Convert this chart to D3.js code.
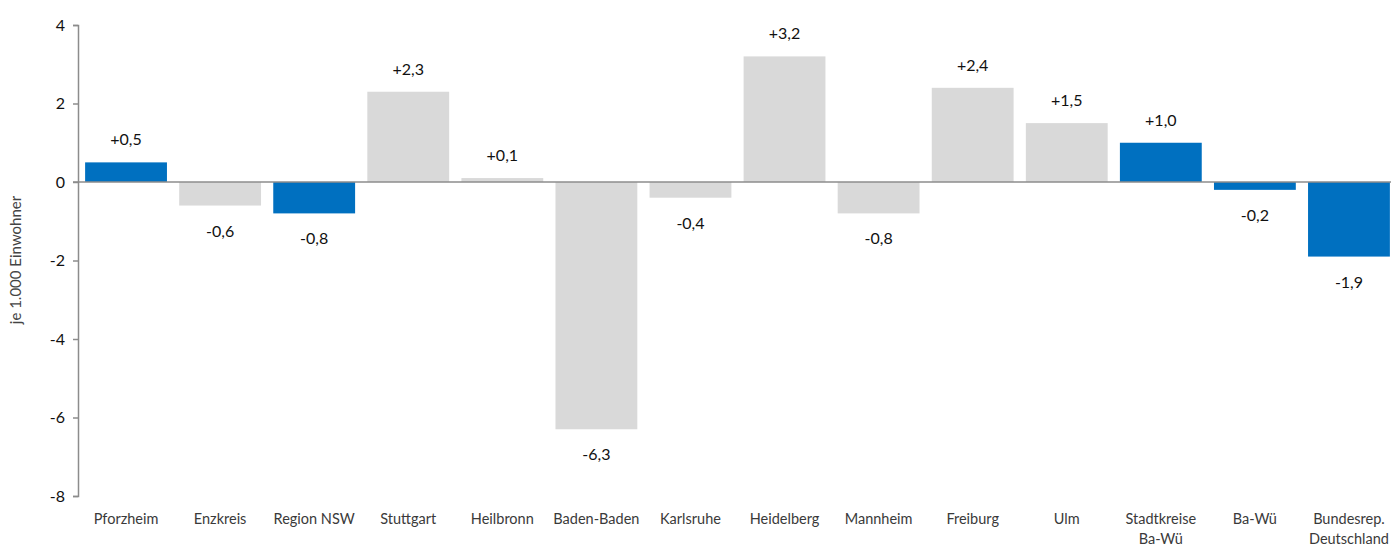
<!DOCTYPE html>
<html>
<head>
<meta charset="utf-8">
<script src="https://cdn.jsdelivr.net/npm/d3@7"></script>
<style>
  html, body { margin: 0; padding: 0; background: #fff; }
  svg { display: block; font-family: Lato, "Open Sans", sans-serif; }
</style>
</head>
<body>
<svg id="chart" width="1397" height="547"></svg>
<script>
// Saldo je 1.000 Einwohner
const categories = ["Pforzheim", "Enzkreis", "Region NSW", "Stuttgart", "Heilbronn", "Baden-Baden",
  "Karlsruhe", "Heidelberg", "Mannheim", "Freiburg", "Ulm", "Stadtkreise\nBa-Wü", "Ba-Wü", "Bundesrep.\nDeutschland"];
const values = [0.5, -0.6, -0.8, 2.3, 0.1, -6.3, -0.4, 3.2, -0.8, 2.4, 1.5, 1.0, -0.2, -1.9];
const highlighted = ["Pforzheim", "Region NSW", "Stadtkreise\nBa-Wü", "Ba-Wü", "Bundesrep.\nDeutschland"];
const yTicks = [4, 2, 0, -2, -4, -6, -8];
const yTitle = "je 1.000 Einwohner";

(function draw() {
  const svg = d3.select("#chart");
  const mLeft = 78, mRight = 1395, mTop = 25, mBottom = 496;

  const x = d3.scaleBand().domain(categories).range([mLeft + 1, mRight + 1])
    .paddingInner(0.13).paddingOuter(0.065);
  const y = d3.scaleLinear().domain([-8, 4]).range([mBottom, mTop]);

  const fmt = v => (v > 0 ? "+" : "") + d3.format(".1f")(v).replace(".", ",").replace("−", "-");

  // bars
  svg.append("g").selectAll("rect").data(categories).join("rect")
    .attr("x", d => x(d))
    .attr("width", x.bandwidth())
    .attr("y", (d, i) => y(Math.max(0, values[i])))
    .attr("height", (d, i) => Math.abs(y(values[i]) - y(0)))
    .attr("fill", d => highlighted.includes(d) ? "#0070c0" : "#d9d9d9");

  // zero line
  svg.append("line")
    .attr("x1", mLeft - 5).attr("x2", mRight - 4)
    .attr("y1", y(0)).attr("y2", y(0))
    .attr("stroke", "#8c8c8c").attr("stroke-width", 1.5);

  // y axis
  const yAxis = svg.append("g").attr("transform", `translate(${mLeft},0)`)
    .call(d3.axisLeft(y).tickValues(yTicks).tickSize(5).tickPadding(8)
      .tickFormat(d => d < 0 ? "-" + Math.abs(d) : d));
  yAxis.select(".domain").attr("stroke", "#8c8c8c").attr("stroke-width", 1.5);
  yAxis.selectAll(".tick line").attr("stroke", "#8c8c8c").attr("stroke-width", 1.5);
  yAxis.selectAll(".tick text").attr("font-size", 16).attr("fill", "#111")
    .attr("font-family", "Lato, sans-serif");

  // y title
  svg.append("text")
    .attr("transform", "translate(17,260) rotate(-90)")
    .attr("text-anchor", "middle").attr("dominant-baseline", "middle")
    .attr("font-size", 15).attr("fill", "#444")
    .text(yTitle);

  // value labels
  svg.append("g").selectAll("text").data(categories).join("text")
    .attr("x", d => x(d) + x.bandwidth() / 2)
    .attr("y", (d, i) => values[i] >= 0 ? y(values[i]) - 21 : y(values[i]) + 27)
    .attr("text-anchor", "middle").attr("dominant-baseline", "middle")
    .attr("font-size", 16).attr("fill", "#111")
    .text((d, i) => fmt(values[i]));

  // category labels
  const cat = svg.append("g").selectAll("text").data(categories).join("text")
    .attr("x", d => x(d) + x.bandwidth() / 2)
    .attr("y", 520)
    .attr("text-anchor", "middle").attr("dominant-baseline", "middle")
    .attr("font-size", 14.5).attr("fill", "#3a3a3a");
  cat.each(function(d) {
    const lines = d.split("\n");
    d3.select(this).selectAll("tspan").data(lines).join("tspan")
      .attr("x", x(d) + x.bandwidth() / 2)
      .attr("dy", (l, i) => i === 0 ? 0 : 20)
      .text(l => l);
  });
})();
</script>
</body>
</html>
